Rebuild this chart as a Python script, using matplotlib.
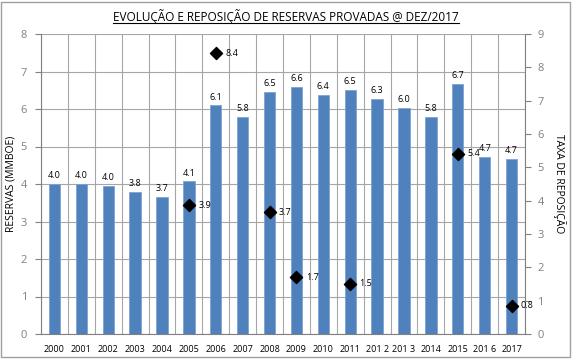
import matplotlib
matplotlib.use('Agg')
import matplotlib.pyplot as plt
from matplotlib.patches import Rectangle
from matplotlib.lines import Line2D
import numpy as np

plt.rcParams['font.family'] = ['Open Sans', 'DejaVu Sans']

years = ['2000', '2001', '2002', '2003', '2004', '2005', '2006', '2007', '2008',
         '2009', '2010', '2011', '201 2', '201 3', '2014', '2015', '201 6', '2017']
reservas = [4.0, 4.0, 3.95, 3.8, 3.65, 4.07, 6.1, 5.8, 6.45,
            6.6, 6.38, 6.5, 6.28, 6.04, 5.8, 6.68, 4.72, 4.68]
reserva_labels = ['4.0', '4.0', '4.0', '3.8', '3.7', '4.1', '6.1', '5.8', '6.5',
                  '6.6', '6.4', '6.5', '6.3', '6.0', '5.8', '6.7', '4.7', '4.7']
taxa_idx = [5, 6, 8, 9, 11, 15, 17]
taxa = [3.87, 8.43, 3.66, 1.71, 1.5, 5.4, 0.84]
taxa_labels = ['3.9', '8.4', '3.7', '1.7', '1.5', '5.4', '0.8']

grey = '#808080'
grid = '#a6a6a6'

fig = plt.figure(figsize=(5.72, 3.6), dpi=100)
ax = fig.add_axes([41/572, 1 - 334/360, 484/572, 300/360])
x = np.arange(len(years))

ax.bar(x, reservas, width=0.42, color='#4F81BD', edgecolor='#7fa3d0',
       linewidth=0.6, zorder=2)
for xi, v, lab in zip(x, reservas, reserva_labels):
    ax.text(xi, v + 0.1, lab, ha='center', va='bottom', fontsize=6.5,
            color='black', zorder=4)

ax.set_xlim(-0.5, len(years) - 0.5)
ax.set_ylim(0, 8)
ax.set_yticks(range(0, 9))
ax.set_xticks(x)
ax.set_xticklabels(years, fontsize=6.5)
ax.set_xticks(np.arange(-0.5, len(years), 1), minor=True)
ax.tick_params(axis='x', which='major', length=0, pad=8)
ax.tick_params(axis='x', which='minor', length=0)
ax.tick_params(axis='y', labelsize=8, labelcolor=grey, color=grey, length=4, pad=6)
ax.grid(True, which='minor', axis='x', color=grid, linewidth=0.8, zorder=0)
ax.grid(True, which='major', axis='y', color=grid, linewidth=0.8, zorder=0)
for s in ax.spines.values():
    s.set_color(grey)
    s.set_linewidth(0.8)
ax.spines['top'].set_visible(False)
ax.set_ylabel('RESERVAS (MMBOE)', fontsize=7.5)
ax.yaxis.set_label_coords(-0.05, 0.5)

ax2 = ax.twinx()
ax2.set_ylim(0, 9)
ax2.set_yticks(range(0, 10))
ax2.tick_params(axis='y', labelsize=8, labelcolor=grey, color=grey, length=4, pad=5)
for s in ax2.spines.values():
    s.set_visible(False)
ax2.scatter([x[i] for i in taxa_idx], taxa, marker='D', s=38, color='black', zorder=5)
for i, v, lab in zip(taxa_idx, taxa, taxa_labels):
    ax2.text(x[i] + 0.35, v, lab, ha='left', va='center', fontsize=6.5, color='black')
ax2.set_ylabel('TAXA DE REPOSIÇÃO', fontsize=7.5, rotation=270, va='center')
ax2.yaxis.set_label_coords(1.072, 0.5)

title = fig.text(0.5, 1 - 17/360, 'EVOLUÇÃO E REPOSIÇÃO DE RESERVAS PROVADAS @ DEZ/2017',
                 ha='center', va='center', fontsize=8.5)
fig.canvas.draw()
bb = title.get_window_extent().transformed(fig.transFigure.inverted())
fig.add_artist(Line2D([bb.x0, bb.x1], [bb.y0 + 0.004, bb.y0 + 0.004],
                      color='black', linewidth=0.8))

fig.add_artist(Rectangle((1/572, 3/360), 569/572, 355/360, fill=False,
                         edgecolor='#a0a0a0', linewidth=1.0,
                         transform=fig.transFigure))

fig.savefig('out.png', dpi=100)
